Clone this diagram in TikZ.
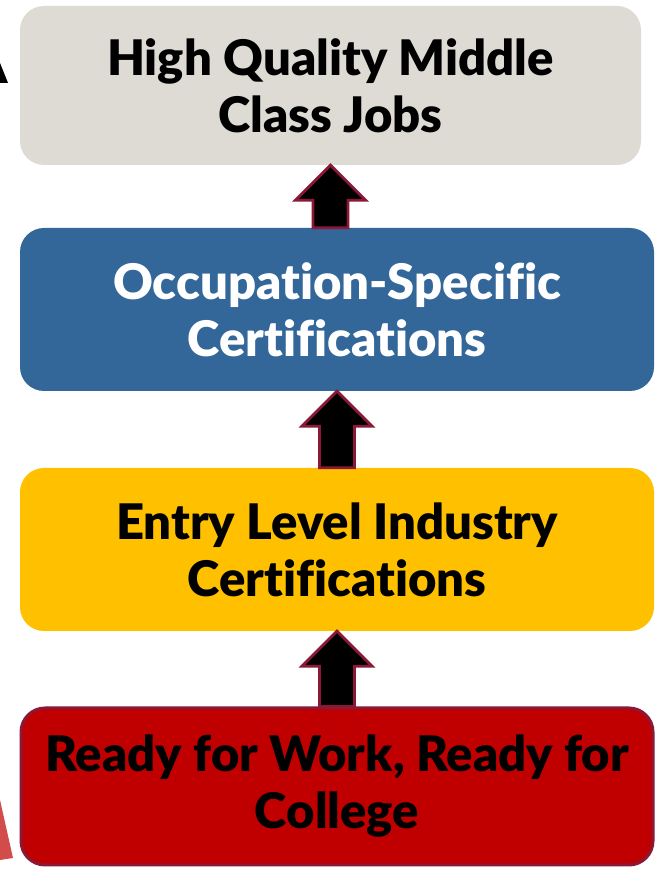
\documentclass[tikz,border=0pt]{standalone}
\usepackage{fontspec}
\setmainfont{Lato}[BoldFont={Lato Black}, Ligatures=NoCommon]
\usetikzlibrary{calc}
\definecolor{boxgray}{HTML}{DEDBD5}
\definecolor{boxblue}{HTML}{336699}
\definecolor{boxgold}{HTML}{FFC000}
\definecolor{boxred}{HTML}{C00000}
\definecolor{rimred}{HTML}{8A1836}
\tikzset{
  stepbox/.style={rectangle, rounded corners=24pt, inner sep=0pt, align=center,
    font=\fontsize{49}{57}\selectfont\bfseries},
  uparrow/.style={fill=black, draw=rimred, line width=2.8pt, line join=miter}
}
\newcommand{\blockarrow}[2]{%
  \draw[uparrow] let \p1=(#1.north), \p2=(#2.south) in
    (\x2-17.5,\y1) -- (\x2-17.5,\y2-35) -- (\x2-35,\y2-35) -- (\x2,\y2)
    -- (\x2+35,\y2-35) -- (\x2+17.5,\y2-35) -- (\x2+17.5,\y1) -- cycle;}

\begin{document}
\begin{tikzpicture}[x=1pt,y=1pt]
\useasboundingbox (0,0) rectangle (654,872);
\fill[black] (0,809) -- (8,789) -- (0,789) -- cycle;
\fill[boxred!70!white] (0,72) -- (13,14) -- (0,12) -- cycle;
\node[stepbox, fill=boxgray, minimum width=621pt, minimum height=159pt] (jobs) at (330.5,786.5) {High Quality Middle\\Class Jobs};
\node[stepbox, fill=boxblue, text=white, minimum width=634pt, minimum height=163pt] (occupation) at (337,562.5) {Occupation-Specific\\Certifications};
\node[stepbox, fill=boxgold, minimum width=634pt, minimum height=163pt] (entry) at (337,322.5) {Entry Level Industry\\Certifications};
\node[stepbox, fill=boxred, draw=rimred, line width=3pt, minimum width=632pt, minimum height=157pt] (ready) at (337,85.5) {Ready for Work, Ready for\\College};
\blockarrow{occupation}{jobs}
\blockarrow{entry}{occupation}
\blockarrow{ready}{entry}
\end{tikzpicture}
\end{document}
